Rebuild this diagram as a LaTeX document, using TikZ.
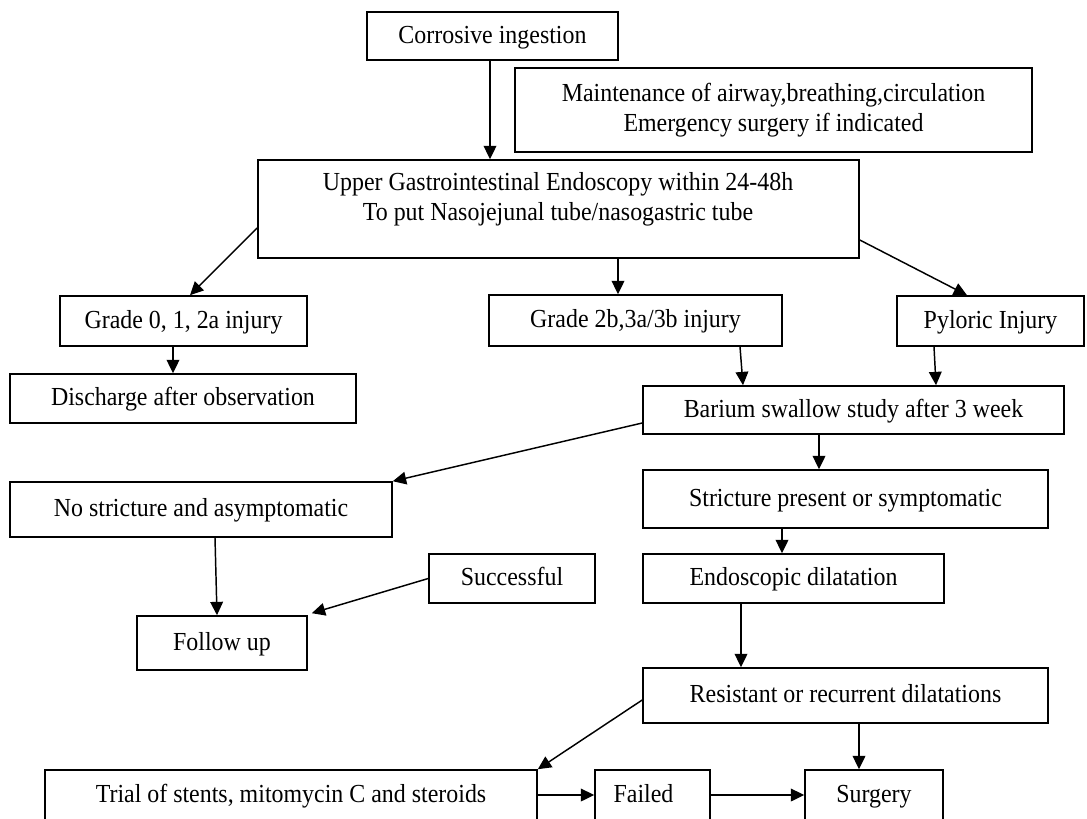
\documentclass[tikz,border=0pt]{standalone}
\usepackage{fontspec}
\setmainfont{Liberation Serif}[FakeStretch=0.92]
\usetikzlibrary{arrows.meta,calc}
\newcommand\mkbox[6]{\node[box, minimum width={(#4-#2)*0.75pt}, minimum height={(#5-#3)*0.75pt}] (#1) at ({(#2+#4)/2},{(#3+#5)/2}) {#6};}
\begin{document}
\begin{tikzpicture}[x=0.75pt,y=-0.75pt,
  txt/.style={inner sep=0pt, align=center, font=\fontsize{19.5}{22.5}\selectfont},
  box/.style={txt, draw, line width=1.2pt, text height=14pt, text depth=3pt},
  mbox/.style={txt, draw, line width=1.2pt},
  arr/.style={draw, line width=1.1pt, -{Triangle[length=10pt,width=9.5pt]}}]
\useasboundingbox (0,0) rectangle (1087,818);
\clip (0,0) rectangle (1087,818);
\mkbox{c}{367}{12}{618}{60}{Corrosive ingestion}
\node[mbox, minimum width={517*0.75pt}, minimum height={84*0.75pt}] (m) at (773.5,110) {Maintenance of airway,breathing,circulation\\Emergency surgery if indicated};
\mkbox{e}{258}{160}{859}{258}{}
\node[txt] (et) at (558,199) {Upper Gastrointestinal Endoscopy within 24-48h\\To put Nasojejunal tube/nasogastric tube};
\mkbox{g0}{60}{296}{307}{346}{Grade 0, 1, 2a injury}
\mkbox{g2}{489}{295}{782}{346}{Grade 2b,3a/3b injury}
\mkbox{py}{897}{296}{1084}{346}{Pyloric Injury}
\mkbox{dis}{10}{374}{356}{423}{Discharge after observation}
\mkbox{ba}{643}{386}{1064}{434}{Barium swallow study after 3 week}
\mkbox{ns}{10}{482}{392}{537}{No stricture and asymptomatic}
\mkbox{st}{643}{470}{1048}{528}{Stricture present or symptomatic}
\mkbox{su}{429}{554}{595}{603}{Successful}
\mkbox{ed}{643}{554}{944}{603}{Endoscopic dilatation}
\mkbox{fu}{137}{616}{307}{670}{Follow up}
\mkbox{re}{643}{668}{1048}{723}{Resistant or recurrent dilatations}
\mkbox{tr}{45}{770}{537}{820}{Trial of stents, mitomycin C and steroids}
\mkbox{fa}{595}{770}{710}{820}{Failed\hspace*{13.5pt}}
\mkbox{sg}{805}{770}{943}{820}{Surgery}
% connectors
\draw[arr] ($(c.south)+(-2.5,0)$) -- ($(c.south |- e.north)+(-2.5,0)$);
\draw[arr] ($(e.west)+(0,19)$) -- ($(g0.north)+(6.5,0)$);
\draw[arr] ($(e.south)+(59.5,0)$) -- ($(g2.north)+(-17.5,0)$);
\draw[arr] ($(e.east)+(0,31)$) -- ($(py.north)+(-23.5,0)$);
\draw[arr] ($(g0.south)+(-10.5,0)$) -- ($(dis.north)+(-10,0)$);
\draw[arr] ($(g2.south)+(104.5,0)$) -- ($(ba.north)+(-110.5,0)$);
\draw[arr] ($(py.south)+(-56.5,0)$) -- ($(ba.north)+(82.5,0)$);
\draw[arr] ($(ba.west)+(0,13)$) -- (ns.north east);
\draw[arr] ($(ba.south)+(-34.5,0)$) -- ($(st.north)+(-26.5,0)$);
\draw[arr] ($(st.south)+(-63.5,0)$) -- ($(ed.north)+(-11.5,0)$);
\draw[arr] ($(ns.south)+(14,0)$) -- ($(fu.north)+(-5,0)$);
\draw[arr] (su.west) -- ($(fu.north east)+(4,-2)$);
\draw[arr] ($(ed.south)+(-52.5,0)$) -- ($(re.north)+(-104.5,0)$);
\draw[arr] ($(re.west)+(0,4.5)$) -- (tr.north east);
\draw[arr] ($(re.south)+(13.5,0)$) -- ($(sg.north)+(-15,0)$);
\draw[arr] (tr.east) -- (fa.west);
\draw[arr] (fa.east) -- (sg.west);
\end{tikzpicture}
\end{document}
